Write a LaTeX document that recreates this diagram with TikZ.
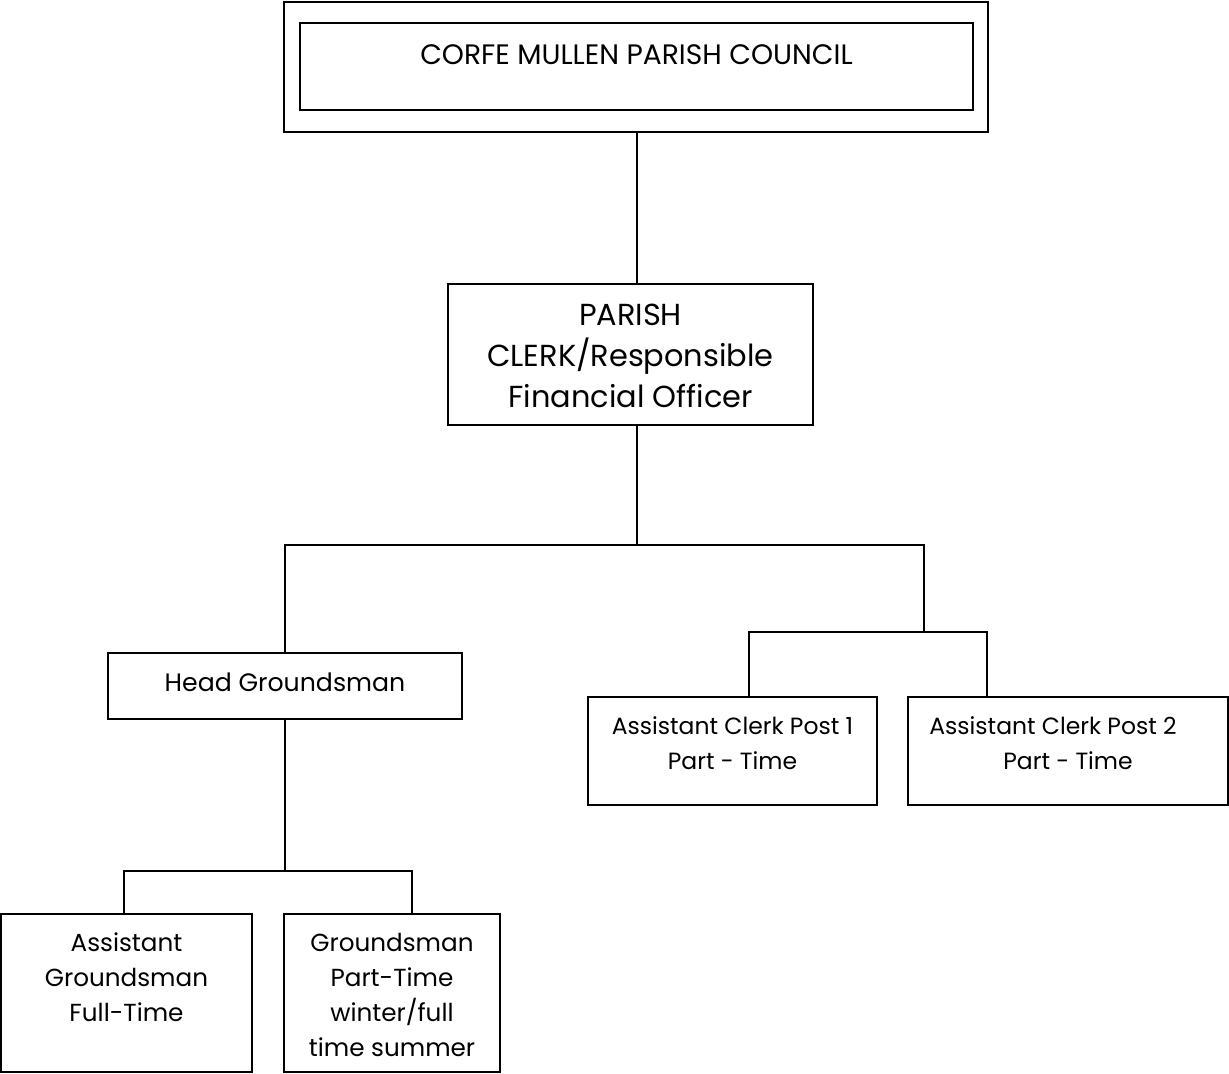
\documentclass[tikz,border=0pt]{standalone}
\usepackage{fontspec}
\setmainfont{Poppins}
\usepackage{tikz}
\usetikzlibrary{positioning}

\begin{document}
\begin{tikzpicture}[x=0.75pt, y=-0.75pt, line width=1.1pt,
    box/.style={draw, rectangle, inner sep=0pt},
    txt/.style={inner sep=0pt, align=center},
    big/.style={font=\fontsize{22.8}{30.75}\selectfont},
    mid/.style={font=\fontsize{18.5}{26.25}\selectfont},
    small/.style={font=\fontsize{17.6}{26.25}\selectfont}]

    \useasboundingbox (0,0) rectangle (1229,1074);

    % Boxes

    \node[box, minimum width=528pt, minimum height=97.5pt]      (outer)   at (636,67) {}; %
    \node[box, minimum width=504.75pt, minimum height=65.25pt]  (council) at (636.5,66.5) {}; %
    \node[box, minimum width=273.75pt, minimum height=105.75pt] (clerk)   at (630.5,354.5) {}; %
    \node[box, minimum width=265.5pt, minimum height=49.5pt]    (head)    at (285,686) {}; %
    \node[box, minimum width=216.75pt, minimum height=81pt]     (ac1)     at (732.5,751) {}; %
    \node[box, minimum width=240pt, minimum height=81pt]        (ac2)     at (1068,751) {}; %
    \node[box, minimum width=188.25pt, minimum height=118.5pt]  (ag)      at (126.5,993) {}; %
    \node[box, minimum width=162pt, minimum height=118.5pt]     (gpt)     at (392,993) {}; %

    % Texts

    \node[txt, font=\fontsize{21.1}{26}\selectfont, below=16.5pt of council.north] (counciltxt) {CORFE MULLEN PARISH COUNCIL}; %
    \node[txt, big, below=15pt of clerk.north] (clerktxt) {PARISH\\CLERK/Responsible\\Financial Officer}; %
    \node[txt, font=\fontsize{18.9}{26}\selectfont, below=15pt of head.north] (headtxt) {Head Groundsman}; %
    \node[txt, small, below=15pt of ac1.north] (ac1txt) {Assistant Clerk Post 1\\Part - Time}; %
    \node[txt, small, below=15pt of ac2.north] (ac2txt) {Assistant Clerk Post 2\hspace*{22.5pt}\\Part - Time}; %
    \node[txt, mid, below=14.25pt of ag.north] (agtxt) {Assistant\\Groundsman\\Full-Time}; %
    \node[txt, mid, below=14.25pt of gpt.north] (gpttxt) {Groundsman\\Part-Time\\winter/full\\time summer}; %

    % Lines

    \coordinate (split)     at (637,545);
    \coordinate (clerkjoin) at (924,632);
    \coordinate (ac1top)    at (749,632);
    \coordinate (ac2top)    at (987,632);
    \coordinate (grsplit)   at (285,871);
    \coordinate (agtop)     at (124,871);
    \coordinate (gpttop)    at (412,871);

    \draw (outer.south -| split) -- (clerk.north -| split);
    \draw (clerk.south -| split) -- (split);
    \draw (head.north) |- (split) -| (clerkjoin);
    \draw (ac1.north -| ac1top) |- (ac2top) -- (ac2.north -| ac2top);
    \draw (head.south) -- (grsplit);
    \draw (ag.north -| agtop) |- (gpttop) -- (gpt.north -| gpttop);

\end{tikzpicture}
\end{document}
